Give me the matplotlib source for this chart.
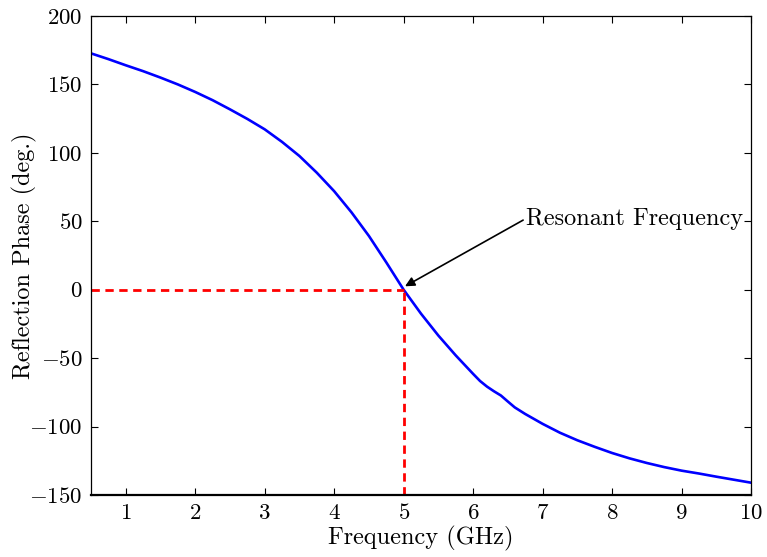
import matplotlib
matplotlib.use("Agg")
import matplotlib.pyplot as plt

plt.rcParams['font.family'] = ['cmr10', 'DejaVu Serif']
plt.rcParams['mathtext.fontset'] = 'cm'
plt.rcParams['axes.formatter.use_mathtext'] = True

# values
freq = [0.5, 0.75, 1, 1.25, 1.5, 1.75, 2, 2.25, 2.5, 2.75, 3, 3.25, 3.5, 3.75,
        4, 4.25, 4.5, 4.75, 5, 5.25, 5.5, 5.75, 6, 6.1, 6.2, 6.3, 6.4, 6.5,
        6.6, 6.75, 7, 7.25, 7.5, 7.75, 8, 8.25, 8.5, 8.75, 9, 9.25, 9.5, 9.75, 10]
phase = [172.7, 168.5, 164, 159.7, 155, 150, 144.5, 138.5, 131.8, 124.8, 117.2,
         108, 97.7, 85.5, 72, 56.5, 39.3, 20, 0, -17.5, -33.5, -48, -61.5, -66.7,
         -70.8, -74.2, -77.3, -81.7, -86, -90.8, -98, -104.5, -110, -114.8,
         -119.3, -123.2, -126.6, -129.6, -132.2, -134.3, -136.6, -138.8, -141]
f_res = 5.0
xticks = [1, 2, 3, 4, 5, 6, 7, 8, 9, 10]
yticks = [-150, -100, -50, 0, 50, 100, 150, 200]

fig = plt.figure(figsize=(7.67, 5.57), dpi=100)
ax = fig.add_axes([91/767, 1 - 495/557, 660/767, 479/557])

ax.plot(freq, phase, color='#0000ff', linewidth=1.9)
ax.plot([0.5, f_res], [0, 0], color='#ff0000', linewidth=2, linestyle=(0, (3, 2)))
ax.plot([f_res, f_res], [-150, 0], color='#ff0000', linewidth=2, linestyle=(0, (3, 2)))

ax.annotate('Resonant Frequency', xy=(5.02, 2.5), xytext=(6.76, 52),
            ha='left', va='center', fontsize=17.5,
            arrowprops=dict(arrowstyle='-|>', color='black', lw=1.2,
                            mutation_scale=14, shrinkA=0, shrinkB=0,
                            relpos=(0, 0.5)))

ax.set_xlim(0.5, 10)
ax.set_ylim(-150, 200)
ax.set_xticks(xticks)
ax.set_yticks(yticks)
ax.tick_params(direction='in', top=True, right=True, length=5, labelsize=16.5, pad=6)
ax.set_xlabel('Frequency (GHz)', fontsize=17.5, labelpad=2)
ax.set_ylabel('Reflection Phase (deg.)', fontsize=17.5)
ax.yaxis.set_label_coords(-0.082, 0.5)
for s in ax.spines.values():
    s.set_linewidth(0.9)
ax.spines['bottom'].set_linewidth(1.6)

fig.savefig('out.png', dpi=100)
